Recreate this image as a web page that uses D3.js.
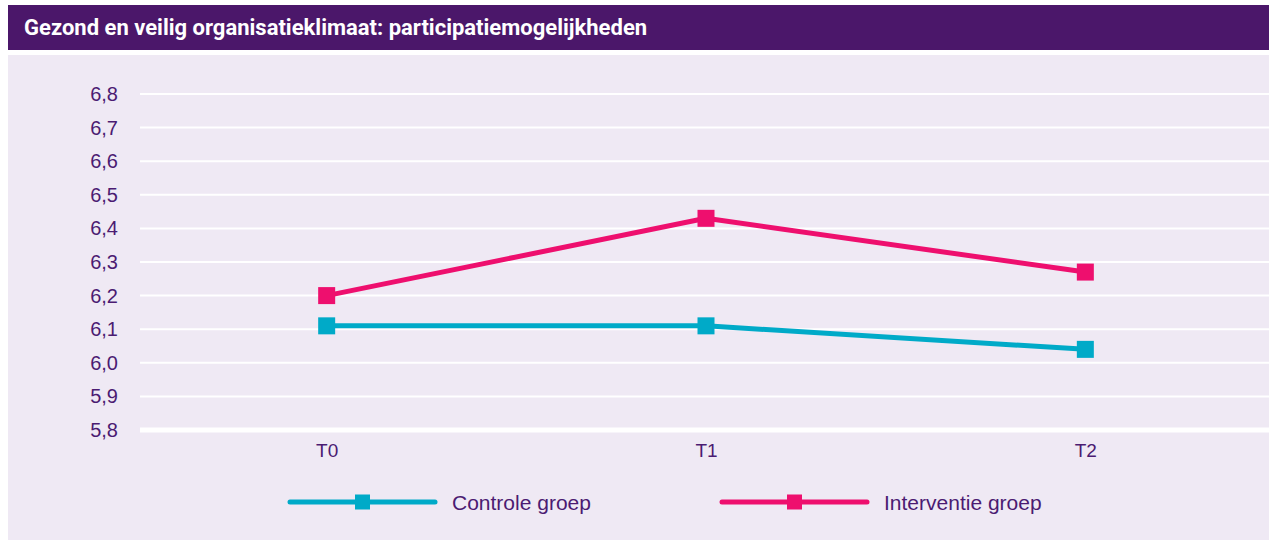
<!DOCTYPE html>
<html>
<head>
<meta charset="utf-8">
<script src="https://cdn.jsdelivr.net/npm/d3@7"></script>
<style>
  body { margin: 0; background: #fff; }
  svg text { font-family: "Liberation Sans", Arial, sans-serif; }
</style>
</head>
<body>
<svg id="chart"></svg>
<script>
const title = "Gezond en veilig organisatieklimaat: participatiemogelijkheden";
const periods = ["T0", "T1", "T2"];
const controle = [6.11, 6.11, 6.04];
const interventie = [6.2, 6.43, 6.27];
const yTicks = [5.8, 5.9, 6.0, 6.1, 6.2, 6.3, 6.4, 6.5, 6.6, 6.7, 6.8];
const seriesNames = ["Controle groep", "Interventie groep"];

const W = 1269, H = 541;
const purple = "#4b176a", bg = "#efe9f4", textCol = "#4b1b72";
const colors = ["#00aac8", "#ee0f6e"];

const svg = d3.select("#chart").attr("width", W).attr("height", H);

// header bar
svg.append("rect").attr("x", 8).attr("y", 5).attr("width", W - 8).attr("height", 45).attr("fill", purple);
svg.append("text")
  .attr("x", 24).attr("y", 35)
  .attr("fill", "#fff")
  .style("font-family", "Roboto, sans-serif")
  .style("font-weight", "bold")
  .style("font-size", "22px")
  .text(title);

// panel
svg.append("rect").attr("x", 8).attr("y", 55).attr("width", W - 8).attr("height", H - 56).attr("fill", bg);

const x = d3.scalePoint().domain(periods).range([137, 1275]).padding(0.5);
const y = d3.scaleLinear().domain([5.8, 6.8]).range([430, 94]);

const g = svg.append("g");

// gridlines
g.selectAll(".grid")
  .data(yTicks)
  .join("line")
  .attr("x1", 140).attr("x2", W)
  .attr("y1", d => y(d)).attr("y2", d => y(d))
  .attr("stroke", "#fff")
  .attr("stroke-width", d => d === 5.8 ? 5 : 2);

// y axis labels
const yAxis = g.append("g")
  .attr("transform", "translate(118,0)")
  .call(d3.axisLeft(y).tickValues(yTicks).tickSize(0).tickPadding(0)
    .tickFormat(d => d3.format(".1f")(d).replace(".", ",")));
yAxis.select(".domain").remove();
yAxis.selectAll("text").attr("fill", textCol).style("font-size", "20px")
  .style("font-family", "\"Liberation Sans\", Arial, sans-serif");

// x axis labels
const xAxis = g.append("g")
  .attr("transform", "translate(0,443)")
  .call(d3.axisBottom(x).tickSize(0).tickPadding(0));
xAxis.select(".domain").remove();
xAxis.selectAll("text").attr("fill", textCol).style("font-size", "19px")
  .style("font-family", "\"Liberation Sans\", Arial, sans-serif");

// series
const series = [controle, interventie];
const line = d3.line().x((d, i) => x(periods[i])).y(d => y(d));
series.forEach((vals, si) => {
  g.append("path")
    .datum(vals)
    .attr("d", line)
    .attr("fill", "none")
    .attr("stroke", colors[si])
    .attr("stroke-width", 5)
    .attr("stroke-linejoin", "round");
  g.selectAll(".m" + si)
    .data(vals)
    .join("rect")
    .attr("x", (d, i) => x(periods[i]) - 8.5)
    .attr("y", d => y(d) - 8.5)
    .attr("width", 17).attr("height", 17)
    .attr("fill", colors[si]);
});

// legend
const legendX = [290, 722];
seriesNames.forEach((name, i) => {
  const lg = svg.append("g").attr("transform", `translate(${legendX[i]},502)`);
  lg.append("line").attr("x1", 0).attr("x2", 145).attr("y1", 0).attr("y2", 0)
    .attr("stroke", colors[i]).attr("stroke-width", 5).attr("stroke-linecap", "round");
  lg.append("rect").attr("x", 65).attr("y", -7.5).attr("width", 15).attr("height", 15).attr("fill", colors[i]);
  lg.append("text").attr("x", 162).attr("y", 8)
    .attr("fill", textCol).style("font-size", "21px").text(name);
});
</script>
</body>
</html>
